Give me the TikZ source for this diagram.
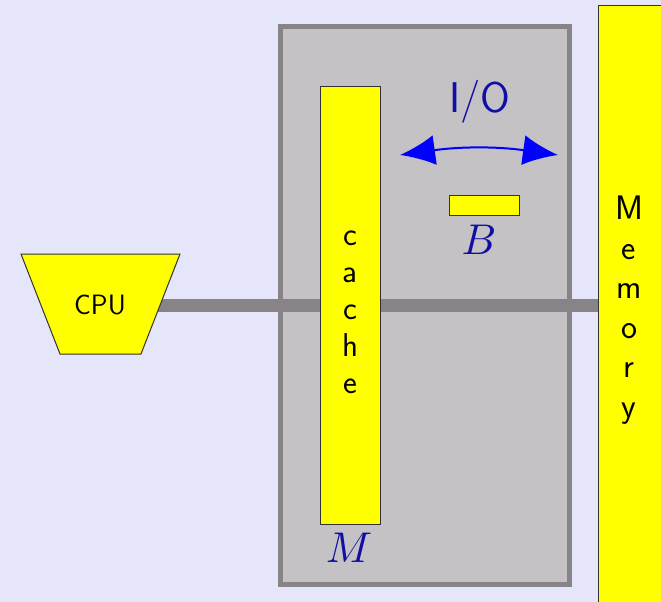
\documentclass[tikz,border=0pt]{standalone}
\usetikzlibrary{arrows.meta}
\pgfdeclarelayer{bg}
\pgfsetlayers{bg,main}
\definecolor{bgcol}{RGB}{230,230,250}
\definecolor{boxfill}{RGB}{196,194,196}
\definecolor{boxline}{RGB}{135,131,134}
\definecolor{lblblue}{RGB}{15,15,165}
\definecolor{yel}{RGB}{255,255,0}
\definecolor{pureblue}{RGB}{0,0,255}
\tikzset{
  ybox/.style={draw=black!80, line width=1pt, fill=yel, inner sep=0pt},
  vtext/.style={font=\sffamily\fontsize{33}{37}\selectfont, align=center, inner sep=0pt},
  mathlbl/.style={text=lblblue, scale=4.3, inner sep=0pt},
  bus/.style={draw=boxline, line width=13pt},
}
\begin{document}
\begin{tikzpicture}[x=1pt,y=-1pt]
\useasboundingbox (0,0) rectangle (661,602);
% CPU trapezoid
\coordinate (cpuTL) at (21,254);
\coordinate (cpuTR) at (180,254);
\coordinate (cpuBR) at (141,354);
\coordinate (cpuBL) at (60,354);
\filldraw[ybox] (cpuTL) -- (cpuTR) -- (cpuBR) -- (cpuBL) -- cycle;
\node[font=\sffamily\fontsize{28}{28}\selectfont, inner sep=0pt] (cpu) at (100,305) {CPU};
\node[ybox, minimum width=60pt, minimum height=438pt] (cache) at (350,305) {};
\node[vtext] (cachetxt) at (350,312) {c\\a\\c\\h\\e};
\node[ybox, minimum width=66pt, minimum height=604pt] (mem) at (631,308) {};
\node[vtext, font=\sffamily\fontsize{34}{39.5}\selectfont] (memtxt) at (629,310) {M\\e\\m\\o\\r\\y};
\node[ybox, minimum width=70pt, minimum height=20pt] (blk) at (484,205) {};
\node[mathlbl] (blbl) at (479,240) {$B$};
\node[mathlbl] (mlbl) at (349,548) {$M$};
\node[text=lblblue, font=\sffamily\fontsize{43}{43}\selectfont, inner sep=0pt] (io) at (480,102) {I/O};
\coordinate (ioL) at (400,155);
\coordinate (ioR) at (558,155);
\draw[pureblue, line width=2pt, {Latex[length=35pt,width=30pt]}-{Latex[length=35pt,width=30pt]}]
  (ioL) to[bend left=8] (ioR);
\begin{pgfonlayer}{bg}
\fill[bgcol] (0,0) rectangle (661,602);
\node[draw=boxline, fill=boxfill, line width=5pt, inner sep=0pt,
      minimum width=289pt, minimum height=558pt] (box) at (425,305.5) {};
\draw[bus] (cpu.center) -- (cpu.center -| mem.center);
\end{pgfonlayer}
\end{tikzpicture}
\end{document}
